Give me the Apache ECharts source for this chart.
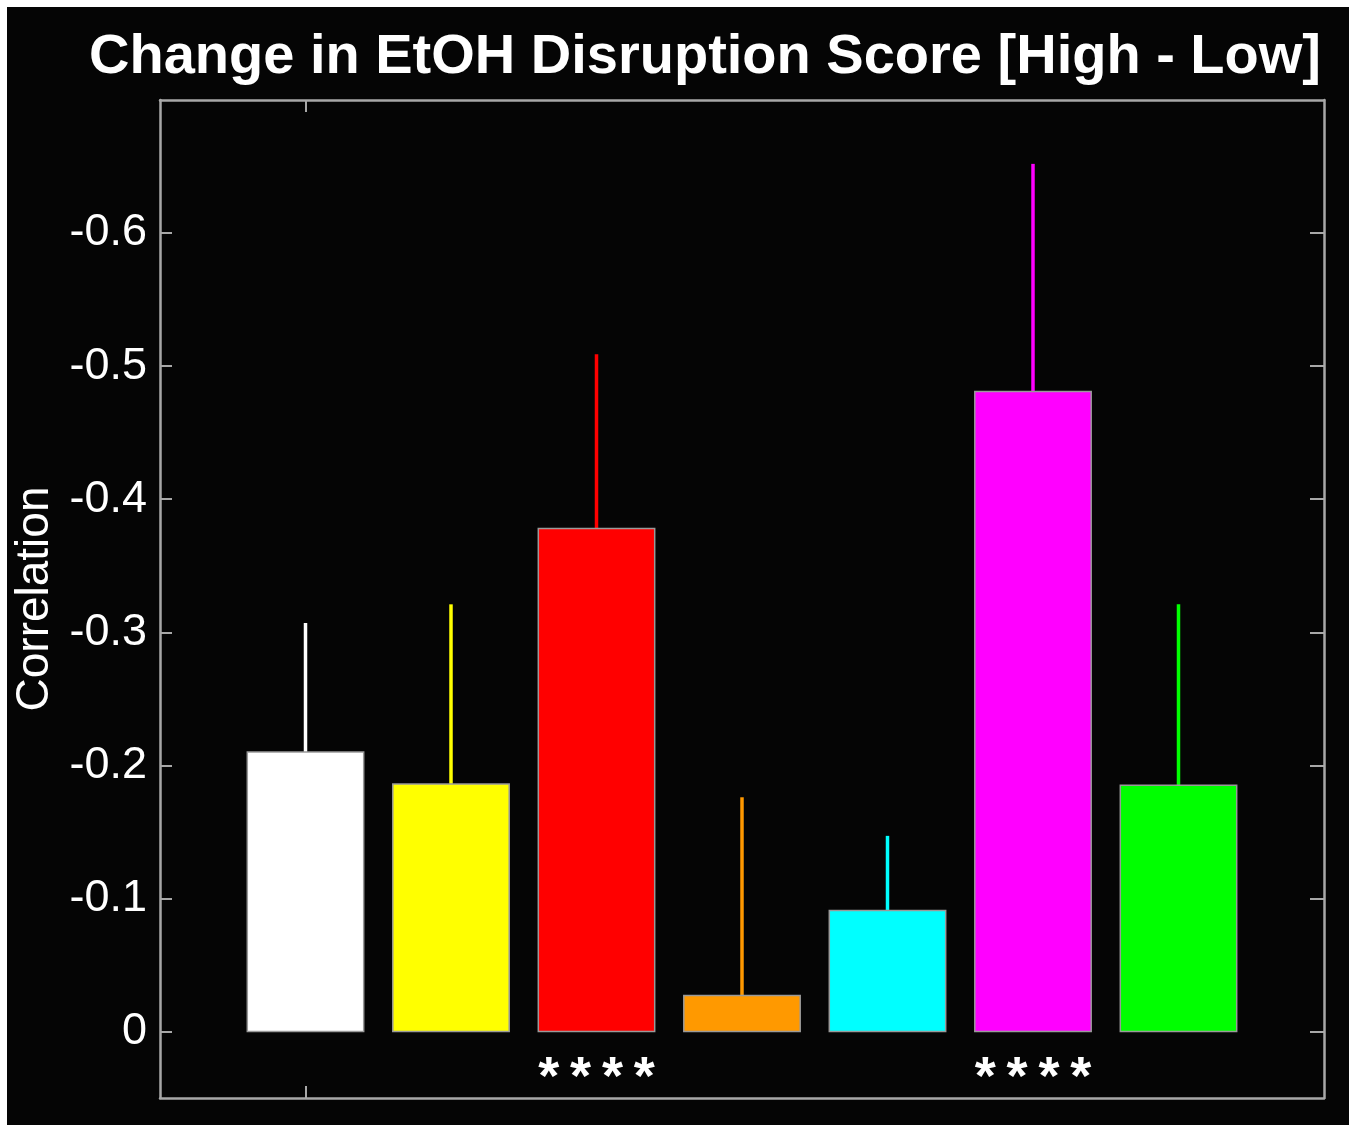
<!DOCTYPE html>
<html>
<head>
<meta charset="utf-8">
<script src="https://cdn.jsdelivr.net/npm/echarts@6/dist/echarts.min.js"></script>
<style>
  html, body { margin: 0; padding: 0; background: #ffffff; }
  #chart { position: absolute; left: 7px; top: 7px; width: 1342px; height: 1118px; }
</style>
</head>
<body>
<div id="chart"></div>
<script>
// Group positions along the x axis (one bar per group)
const groups = [1, 2, 3, 4, 5, 6, 7];
// Mean correlation per group (High - Low change in EtOH disruption score)
const corr = [-0.210, -0.186, -0.378, -0.027, -0.091, -0.481, -0.185];
// One-sided error bar length per group
const errLen = [0.097, 0.135, 0.131, 0.149, 0.056, 0.171, 0.136];
// Fill colour per group
const barColors = ['#ffffff', '#ffff00', '#ff0000', '#ff9900', '#00ffff', '#ff00ff', '#00ff00'];
// Significance markers drawn below the bars
const sigMarks = ['', '', '*\u2009*\u2009*\u2009*', '', '', '*\u2009*\u2009*\u2009*', ''];
// Y-axis tick values
const yTicks = [0, -0.1, -0.2, -0.3, -0.4, -0.5, -0.6];
// X-axis tick values
const xTicks = [1];

const FONT = '"Liberation Sans", Arial, Helvetica, sans-serif';
const frameColor = '#a8a8a8';

const barData = groups.map((g, i) => [g, corr[i]]);
const errData = groups.map((g, i) => [g, corr[i], errLen[i]]);
const sigData = groups.map((g, i) => [g, 0, sigMarks[i]]);

const chart = echarts.init(document.getElementById('chart'));

const axisCommon = {
  axisLine: { show: true, onZero: false, lineStyle: { color: frameColor, width: 2.5 } },
  splitLine: { show: false }
};

chart.setOption({
  backgroundColor: '#050505',
  animation: false,
  title: {
    text: 'Change in EtOH Disruption Score [High - Low]',
    left: 693,
    top: 18,
    textAlign: 'center',
    textStyle: { color: '#ffffff', fontFamily: FONT, fontWeight: 'bold', fontSize: 56 }
  },
  grid: { left: 153, top: 93, right: 25, bottom: 27, outerBoundsMode: 'none', containLabel: false },
  xAxis: [
    Object.assign({
      type: 'value', min: 0, max: 8, position: 'bottom',
      axisTick: { show: true, inside: true, length: 12, customValues: xTicks, lineStyle: { color: frameColor, width: 2 } },
      axisLabel: { show: false }
    }, axisCommon),
    Object.assign({
      type: 'value', min: 0, max: 8, position: 'top',
      axisTick: { show: true, inside: true, length: 12, customValues: xTicks, lineStyle: { color: frameColor, width: 2 } },
      axisLabel: { show: false }
    }, axisCommon)
  ],
  yAxis: [
    Object.assign({
      type: 'value', min: -0.7, max: 0.05, inverse: true, position: 'left',
      name: 'Correlation', nameLocation: 'middle', nameRotate: 90, nameGap: 102,
      nameTextStyle: { color: '#ffffff', fontFamily: FONT, fontSize: 46 },
      axisTick: { show: true, inside: true, length: 12, customValues: yTicks, lineStyle: { color: frameColor, width: 2 } },
      axisLabel: { show: true, customValues: yTicks, color: '#ffffff', fontFamily: FONT, fontSize: 45, margin: 13 }
    }, axisCommon),
    Object.assign({
      type: 'value', min: -0.7, max: 0.05, inverse: true, position: 'right',
      axisTick: { show: true, inside: true, length: 14, customValues: yTicks, lineStyle: { color: frameColor, width: 2 } },
      axisLabel: { show: false }
    }, axisCommon)
  ],
  series: [
    {
      name: 'bars',
      type: 'custom',
      data: barData,
      renderItem: function (params, api) {
        const x = api.value(0), y = api.value(1);
        const p0 = api.coord([x - 0.4, 0]);
        const p1 = api.coord([x + 0.4, y]);
        return {
          type: 'rect',
          shape: { x: p0[0], y: Math.min(p0[1], p1[1]), width: p1[0] - p0[0], height: Math.abs(p1[1] - p0[1]) },
          style: { fill: barColors[params.dataIndex], stroke: '#9a9a9a', lineWidth: 1.5 }
        };
      },
      z: 2
    },
    {
      name: 'errors',
      type: 'custom',
      data: errData,
      renderItem: function (params, api) {
        const x = api.value(0), y = api.value(1), e = api.value(2);
        const a = api.coord([x, y]);
        const b = api.coord([x, y - e]);
        return {
          type: 'line',
          shape: { x1: a[0], y1: a[1], x2: b[0], y2: b[1] },
          style: { stroke: barColors[params.dataIndex], lineWidth: 3.5 }
        };
      },
      z: 1
    },
    {
      name: 'significance',
      type: 'custom',
      data: sigData,
      renderItem: function (params, api) {
        const p = api.coord([api.value(0), api.value(1)]);
        return {
          type: 'text',
          x: p[0], y: p[1] + 21,
          style: {
            text: sigMarks[params.dataIndex],
            fill: '#ffffff', font: 'bold 54px ' + FONT,
            align: 'center', verticalAlign: 'top'
          }
        };
      },
      z: 3
    }
  ]
});
</script>
</body>
</html>
